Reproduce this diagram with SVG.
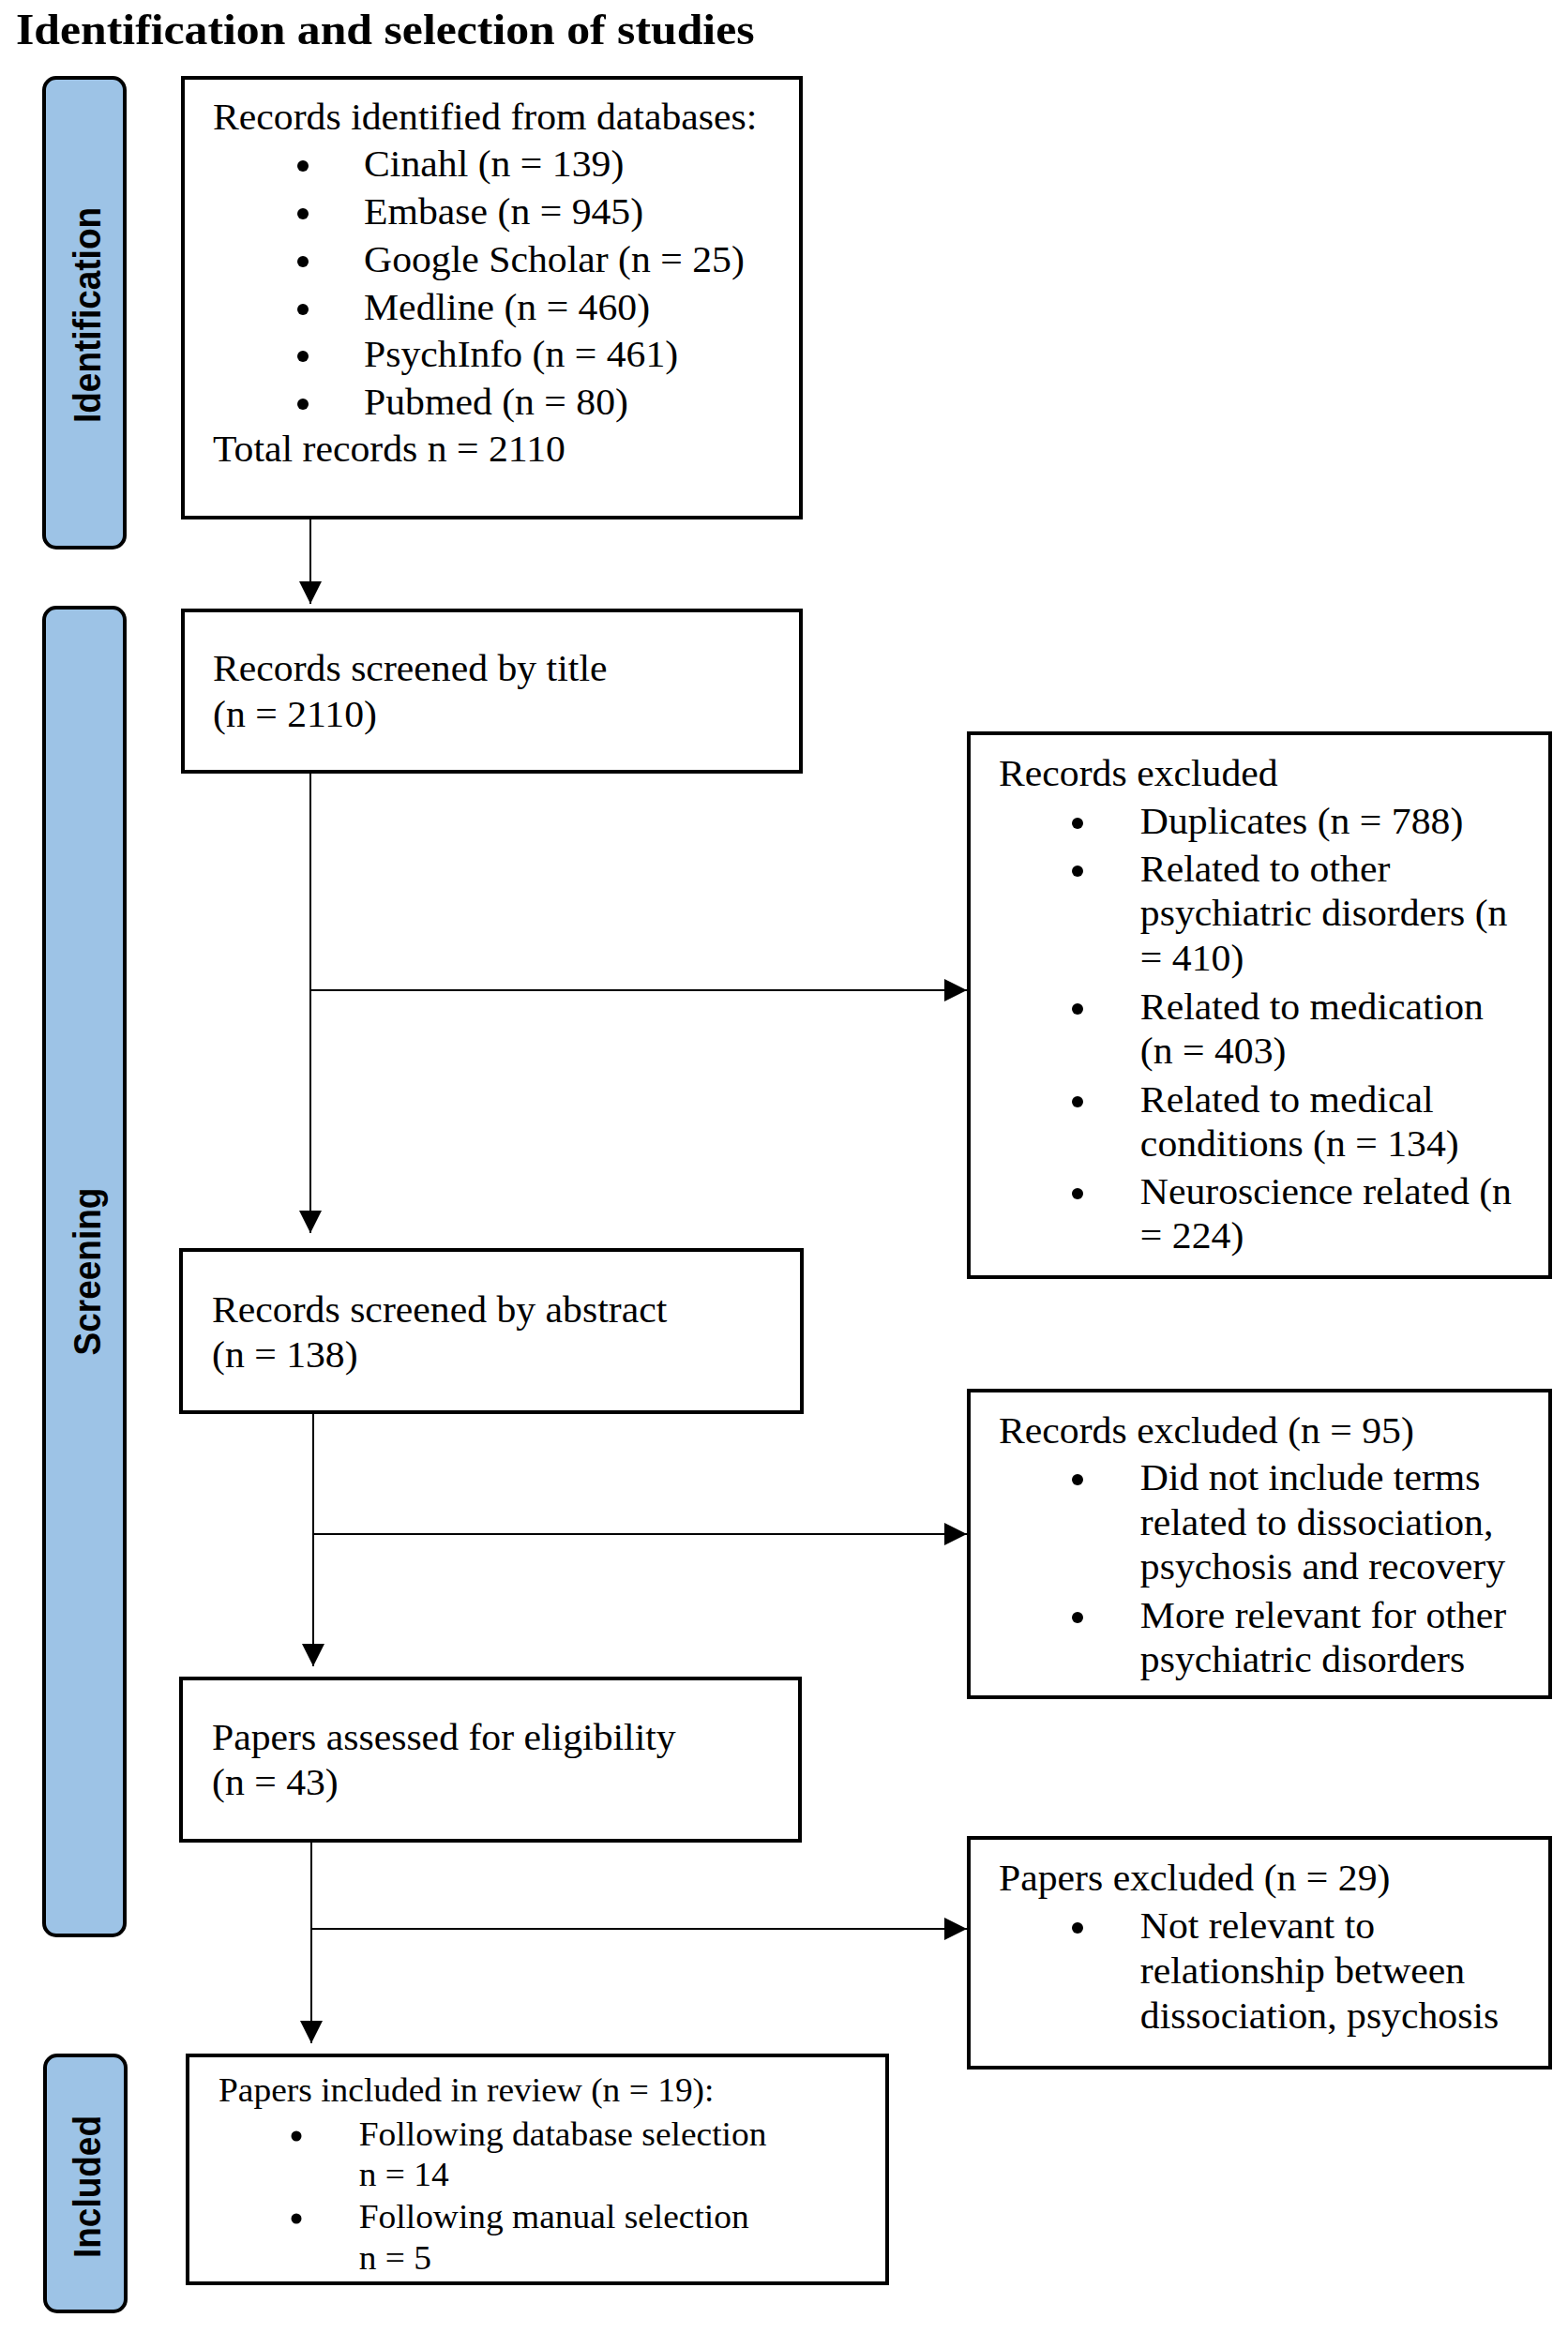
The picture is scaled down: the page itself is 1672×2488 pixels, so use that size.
<svg xmlns="http://www.w3.org/2000/svg" width="1672" height="2488" viewBox="0 0 1672 2488">
  <style>
    .bg { fill: #ffffff; }
    .side { fill: #9DC3E6; stroke: #000000; stroke-width: 4; }
    .box { fill: #ffffff; stroke: #000000; stroke-width: 4; }
    .conn { fill: none; stroke: #000000; stroke-width: 2; }
    .t { font-family: "Liberation Serif", "Times New Roman", serif; font-size: 39px; fill: #000000; }
    .ts { font-family: "Liberation Serif", "Times New Roman", serif; font-size: 35px; fill: #000000; }
    .title { font-family: "Liberation Serif", "Times New Roman", serif; font-size: 46.5px; font-weight: bold; fill: #000000; }
    .lab { font-family: "Liberation Sans", Arial, sans-serif; font-size: 37px; font-weight: bold; fill: #000000; text-anchor: middle; }
    .dot { fill: #000000; }
  </style>
  <defs>
    <marker id="arrow" markerUnits="userSpaceOnUse" markerWidth="24" markerHeight="24" viewBox="0 0 24 24" refX="24" refY="12" orient="auto">
      <path d="M0,0 L24,12 L0,24 Z" fill="#000000"/>
    </marker>
  </defs>
  <rect class="bg" x="0" y="0" width="1672" height="2488"/>

  <g id="title" transform="translate(17 0) scale(1.07 1)">
    <text class="title" x="0" y="47">Identification and selection of studies</text>
  </g>

  <g id="stage-identification">
    <rect class="side" x="47" y="83" width="86" height="501" rx="13" ry="13"/>
    <text class="lab" transform="translate(107 336) scale(1.12 1) rotate(-90)" x="0" y="0">Identification</text>
  </g>
  <g id="stage-screening">
    <rect class="side" x="47" y="648" width="86" height="1416" rx="13" ry="13"/>
    <text class="lab" transform="translate(107 1356) scale(1.12 1) rotate(-90)" x="0" y="0">Screening</text>
  </g>
  <g id="stage-included">
    <rect class="side" x="48" y="2192" width="86" height="273" rx="13" ry="13"/>
    <text class="lab" transform="translate(107 2332) scale(1.12 1) rotate(-90)" x="0" y="0">Included</text>
  </g>

  <g id="connectors">
    <line class="conn" x1="331" y1="552" x2="331" y2="644" marker-end="url(#arrow)"/>
    <line class="conn" x1="331" y1="823" x2="331" y2="1315" marker-end="url(#arrow)"/>
    <line class="conn" x1="331" y1="1056" x2="1031" y2="1056" marker-end="url(#arrow)"/>
    <line class="conn" x1="334" y1="1506" x2="334" y2="1777" marker-end="url(#arrow)"/>
    <line class="conn" x1="334" y1="1636" x2="1031" y2="1636" marker-end="url(#arrow)"/>
    <line class="conn" x1="332" y1="1963" x2="332" y2="2179" marker-end="url(#arrow)"/>
    <line class="conn" x1="332" y1="2057" x2="1031" y2="2057" marker-end="url(#arrow)"/>
  </g>

  <g id="records-identified">
    <rect class="box" x="195" y="83" width="659" height="469"/>
    <g class="dot">
      <circle cx="323" cy="177" r="6"/>
      <circle cx="323" cy="228" r="6"/>
      <circle cx="323" cy="279" r="6"/>
      <circle cx="323" cy="330" r="6"/>
      <circle cx="323" cy="380" r="6"/>
      <circle cx="323" cy="431" r="6"/>
    </g>
    <g transform="translate(227 0) scale(1.07 1)">
      <text class="t" x="0" y="138">Records identified from databases:</text>
      <text class="t" x="150.5" y="188">Cinahl (n = 139)</text>
      <text class="t" x="150.5" y="239">Embase (n = 945)</text>
      <text class="t" x="150.5" y="290">Google Scholar (n = 25)</text>
      <text class="t" x="150.5" y="341">Medline (n = 460)</text>
      <text class="t" x="150.5" y="391">PsychInfo (n = 461)</text>
      <text class="t" x="150.5" y="442">Pubmed (n = 80)</text>
      <text class="t" x="0" y="492">Total records n = 2110</text>
    </g>
  </g>

  <g id="screened-title">
    <rect class="box" x="195" y="651" width="659" height="172"/>
    <g transform="translate(227 0) scale(1.07 1)">
      <text class="t" x="0" y="726">Records screened by title</text>
      <text class="t" x="0" y="775">(n = 2110)</text>
    </g>
  </g>

  <g id="excluded-title">
    <rect class="box" x="1033" y="782" width="620" height="580"/>
    <g class="dot">
      <circle cx="1149" cy="878" r="6"/>
      <circle cx="1149" cy="929" r="6"/>
      <circle cx="1149" cy="1076" r="6"/>
      <circle cx="1149" cy="1175" r="6"/>
      <circle cx="1149" cy="1273" r="6"/>
    </g>
    <g transform="translate(1065 0) scale(1.07 1)">
      <text class="t" x="0" y="838">Records excluded</text>
      <text class="t" x="141" y="889">Duplicates (n = 788)</text>
      <text class="t" x="141" y="940">Related to other</text>
      <text class="t" x="141" y="987">psychiatric disorders (n</text>
      <text class="t" x="141" y="1035">= 410)</text>
      <text class="t" x="141" y="1087">Related to medication</text>
      <text class="t" x="141" y="1134">(n = 403)</text>
      <text class="t" x="141" y="1186">Related to medical</text>
      <text class="t" x="141" y="1233">conditions (n = 134)</text>
      <text class="t" x="141" y="1284">Neuroscience related (n</text>
      <text class="t" x="141" y="1331">= 224)</text>
    </g>
  </g>

  <g id="screened-abstract">
    <rect class="box" x="193" y="1333" width="662" height="173"/>
    <g transform="translate(226 0) scale(1.07 1)">
      <text class="t" x="0" y="1410">Records screened by abstract</text>
      <text class="t" x="0" y="1458">(n = 138)</text>
    </g>
  </g>

  <g id="excluded-abstract">
    <rect class="box" x="1033" y="1483" width="620" height="327"/>
    <g class="dot">
      <circle cx="1149" cy="1578" r="6"/>
      <circle cx="1149" cy="1725" r="6"/>
    </g>
    <g transform="translate(1065 0) scale(1.07 1)">
      <text class="t" x="0" y="1539">Records excluded (n = 95)</text>
      <text class="t" x="141" y="1589">Did not include terms</text>
      <text class="t" x="141" y="1637">related to dissociation,</text>
      <text class="t" x="141" y="1684">psychosis and recovery</text>
      <text class="t" x="141" y="1736">More relevant for other</text>
      <text class="t" x="141" y="1783">psychiatric disorders</text>
    </g>
  </g>

  <g id="assessed-eligibility">
    <rect class="box" x="193" y="1790" width="660" height="173"/>
    <g transform="translate(226 0) scale(1.07 1)">
      <text class="t" x="0" y="1866">Papers assessed for eligibility</text>
      <text class="t" x="0" y="1914">(n = 43)</text>
    </g>
  </g>

  <g id="papers-excluded">
    <rect class="box" x="1033" y="1960" width="620" height="245"/>
    <g class="dot">
      <circle cx="1149" cy="2056" r="6"/>
    </g>
    <g transform="translate(1065 0) scale(1.07 1)">
      <text class="t" x="0" y="2016">Papers excluded (n = 29)</text>
      <text class="t" x="141" y="2067">Not relevant to</text>
      <text class="t" x="141" y="2115">relationship between</text>
      <text class="t" x="141" y="2163">dissociation, psychosis</text>
    </g>
  </g>

  <g id="papers-included">
    <rect class="box" x="200" y="2192" width="746" height="243"/>
    <g class="dot">
      <circle cx="316" cy="2278" r="5.5"/>
      <circle cx="316" cy="2366" r="5.5"/>
    </g>
    <g transform="translate(233 0) scale(1.07 1)">
      <text class="ts" x="0" y="2241">Papers included in review (n = 19):</text>
      <text class="ts" x="140" y="2288">Following database selection</text>
      <text class="ts" x="140" y="2331">n = 14</text>
      <text class="ts" x="140" y="2376">Following manual selection</text>
      <text class="ts" x="140" y="2420">n = 5</text>
    </g>
  </g>
</svg>
